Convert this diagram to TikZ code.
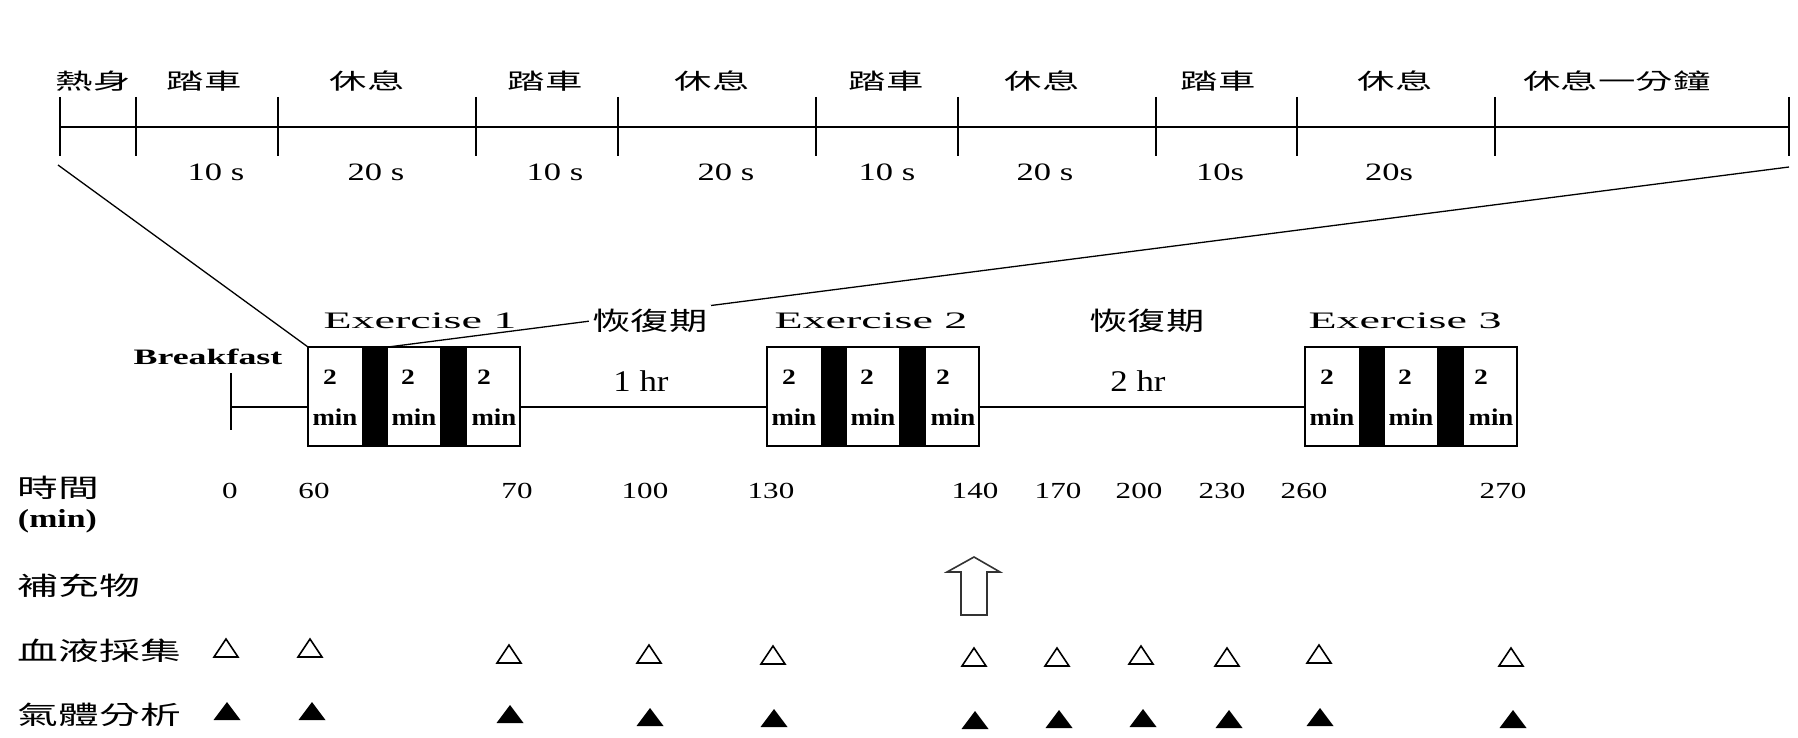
\documentclass[tikz,border=0pt]{standalone}
\usepackage{fontspec}
\usepackage{graphicx}
\setmainfont{Liberation Serif}
\newfontfamily\cjk{Noto Sans CJK TC}
% horizontal stretch factor for a node's text, set per style
\tikzset{sxf/.code={\def\sxfac{#1}}}
\def\sxfac{1}
\newcommand\wide[1]{\scalebox{\sxfac}[1]{#1}}

\begin{document}
\begin{tikzpicture}[x=0.5pt,y=-0.5pt,
  every node/.style={inner sep=0pt, outer sep=0pt},
  line/.style={line width=1pt},
  thin line/.style={line width=0.65pt},
  phase/.style={font=\cjk\fontsize{11}{13}\selectfont, sxf=1.7},
  secs/.style={font=\fontsize{12.5}{14}\selectfont, sxf=1.38},
  extitle/.style={font=\fontsize{11.8}{13}\selectfont, sxf=1.95},
  meal/.style={font=\bfseries\fontsize{11}{13}\selectfont, sxf=1.63},
  exbox/.style={draw, line width=1pt, minimum width=106pt, minimum height=49.5pt},
  two/.style={font=\bfseries\fontsize{11}{13}\selectfont, sxf=1.25},
  mins/.style={font=\bfseries\fontsize{12}{14}\selectfont, sxf=1.12},
  rec/.style={font=\cjk\fontsize{12.75}{14}\selectfont, sxf=1.5, fill=white, inner sep=2pt},
  hrs/.style={font=\fontsize{15}{17}\selectfont, sxf=1.16},
  rowlbl/.style={font=\cjk\fontsize{12.75}{14}\selectfont, sxf=1.6, anchor=west},
  unit/.style={font=\bfseries\fontsize{13}{15}\selectfont, sxf=1.3, anchor=west},
  tnum/.style={font=\fontsize{11.5}{13}\selectfont, sxf=1.35},
  open tri/.pic={\draw[line width=0.8pt] (-12,9) -- (0,-9) -- (12,9) -- cycle;},
  full tri/.pic={\fill (-13.5,9) -- (0,-9) -- (13.5,9) -- cycle;}
]
\useasboundingbox (0,0) rectangle (1798,738);

% ---- interval timeline of one exercise bout ----
\foreach \i/\tx in {0/60,1/136,2/278,3/476,4/618,5/816,6/958,7/1156,8/1297,9/1495,10/1789}{
  \coordinate (t\i) at (\tx,127);
  \draw[line] (\tx,97) -- (\tx,156);
}
\draw[line] (t0) -- (t10);

\foreach \lx/\txt [count=\k] in {93/熱身, 204/踏車, 367/休息, 545/踏車, 712/休息,
                                886/踏車, 1042/休息, 1218/踏車, 1395/休息, 1617/休息一分鐘}{
  \node[phase] (p\k) at (\lx,81) {\wide{\txt}};
}
\foreach \lx/\txt [count=\k] in {216/10 s, 376/20 s, 555/10 s, 726/20 s,
                                887/10 s, 1045/20 s, 1220/10s, 1389/20s}{
  \node[secs] (s\k) at (\lx,172) {\wide{\txt}};
}

% ---- exercise sessions ----
\foreach \n/\bx/\tx in {1/308/420, 2/767/871, 3/1305/1405}{
  \node[exbox] (e\n) at (\bx+106,396.5) {};
  \fill ([xshift=27pt]e\n.north west) rectangle ([xshift=40pt]e\n.south west);
  \fill ([xshift=66pt]e\n.north west) rectangle ([xshift=79.5pt]e\n.south west);
  \node[two] (e\n-n1) at (\bx+22,377) {\wide{2}};
  \node[two] (e\n-n2) at (\bx+100,377) {\wide{2}};
  \node[two] (e\n-n3) at (\bx+176,377) {\wide{2}};
  \node[mins] (e\n-m1) at (\bx+27,417) {\wide{min}};
  \node[mins] (e\n-m2) at (\bx+106,417) {\wide{min}};
  \node[mins] (e\n-m3) at (\bx+186,417) {\wide{min}};
  \node[extitle] (x\n) at (\tx,321) {\wide{Exercise \n}};
}

% zoom lines from the bout timeline to the first session
\coordinate (zl) at (58,165);
\coordinate (zr) at (1789,167);
\draw[thin line] (zl) -- (e1.north west);
\draw[thin line] (zr) -- ([xshift=40pt]e1.north west);

% ---- main time line ----
\node[meal] (bk) at (208,357) {\wide{Breakfast}};
\coordinate (bf) at (231,407);
\draw[line] (231,373) -- (231,430);
\draw[line] (bf) -- (bf -| e1.west);
\draw[line] (bf -| e1.east) -- (bf -| e2.west);
\draw[line] (bf -| e2.east) -- (bf -| e3.west);

\node[rec] (r1) at (650,321) {\wide{恢復期}};
\node[rec] (r2) at (1147,321) {\wide{恢復期}};
\node[hrs] (h1) at (641,381) {\wide{1 hr}};
\node[hrs] (h2) at (1138,381) {\wide{2 hr}};

% ---- row labels ----
\node[rowlbl] (lt) at (18,488) {\wide{時間}};
\node[unit] (lu) at (18,521) {\wide{(min)}};
\node[rowlbl] (ls) at (18,586) {\wide{補充物}};
\node[rowlbl] (lb) at (18,651) {\wide{血液採集}};
\node[rowlbl] (lg) at (18,715) {\wide{氣體分析}};

% time marks
\foreach \nx/\txt [count=\k] in {230/0, 314/60, 517/70, 645/100, 771/130, 975/140,
                                1058/170, 1139/200, 1222/230, 1304/260, 1503/270}{
  \node[tnum] (m\k) at (\nx,491) {\wide{\txt}};
}

% supplement
\draw[line width=0.8pt, black!80] (961,615) -- (961,572) -- (947,572) -- (974,557)
  -- (1000,572) -- (987,572) -- (987,615) -- cycle;

% blood sampling
\foreach \px/\py in {226/648, 310/648, 509/654, 649/654, 773/655, 974/657,
                     1057/657, 1141/655, 1227/657, 1319/654, 1511/657}{
  \pic at (\px,\py) {open tri};
}
% gas analysis
\foreach \px/\py in {227/711, 312/711, 510/714, 650/717, 774/718, 975/720,
                     1059/719, 1143/718, 1229/719, 1320/717, 1513/719}{
  \pic at (\px,\py) {full tri};
}
\end{tikzpicture}
\end{document}
